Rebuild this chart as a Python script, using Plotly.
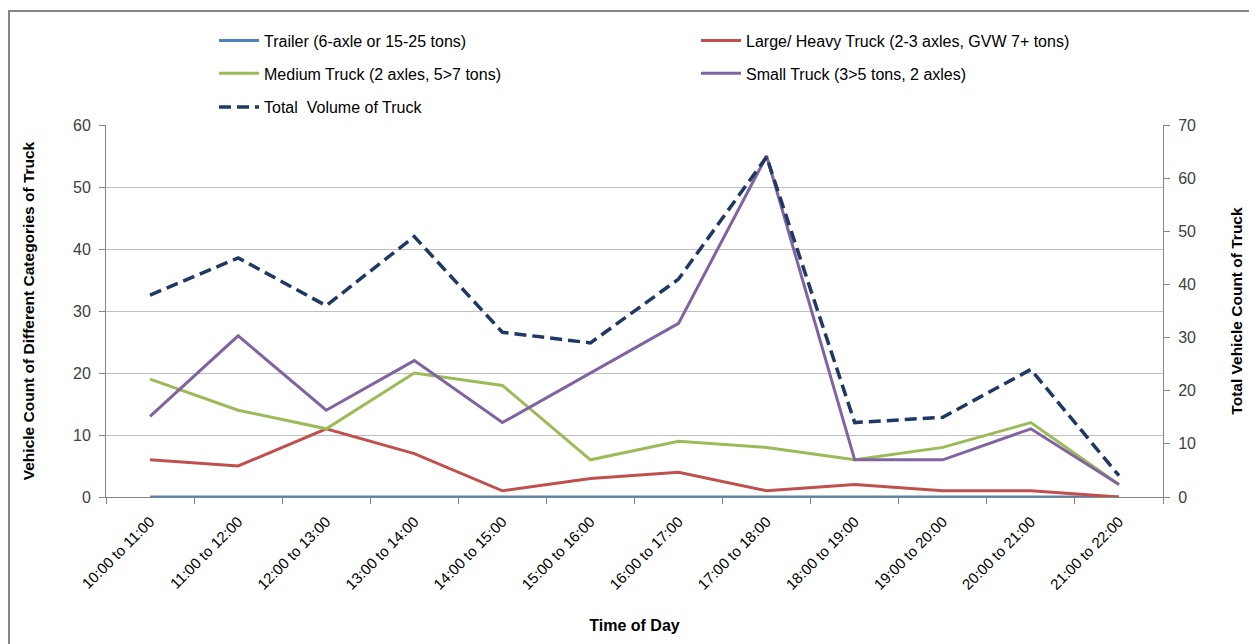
import plotly.graph_objects as go

categories = ["10:00 to 11:00", "11:00 to 12:00", "12:00 to 13:00", "13:00 to 14:00",
              "14:00 to 15:00", "15:00 to 16:00", "16:00 to 17:00", "17:00 to 18:00",
              "18:00 to 19:00", "19:00 to 20:00", "20:00 to 21:00", "21:00 to 22:00"]
trailer = [0, 0, 0, 0, 0, 0, 0, 0, 0, 0, 0, 0]
large_truck = [6, 5, 11, 7, 1, 3, 4, 1, 2, 1, 1, 0]
medium_truck = [19, 14, 11, 20, 18, 6, 9, 8, 6, 8, 12, 2]
small_truck = [13, 26, 14, 22, 12, 20, 28, 55, 6, 6, 11, 2]
total_volume = [38, 45, 36, 49, 31, 29, 41, 64, 14, 15, 24, 4]

left_ticks = [0, 10, 20, 30, 40, 50, 60]
right_ticks = [0, 10, 20, 30, 40, 50, 60, 70]

FONT = "Liberation Sans, Arial, sans-serif"
TXT = "#404040"
# page body has an 8px margin, so the figure is 8px smaller than the window
W, H = 1249, 636
ML, MR, MT, MB = 98, 94, 117, 144

pw = W - ML - MR
ph = H - MT - MB
def px_x(px):
    return (px - ML) / pw
def px_y(py):
    return (H - MB - py) / ph

fig = go.Figure()
fig.add_trace(go.Scatter(x=categories, y=trailer, mode="lines", name="Trailer (6-axle or 15-25 tons)",
                         line=dict(color="#4F81BD", width=3), legend="legend", showlegend=True))
fig.add_trace(go.Scatter(x=categories, y=large_truck, mode="lines", name="Large/ Heavy Truck (2-3 axles, GVW 7+ tons)",
                         line=dict(color="#C0504D", width=3), legend="legend2", showlegend=True))
fig.add_trace(go.Scatter(x=categories, y=medium_truck, mode="lines", name="Medium Truck (2 axles, 5>7 tons)",
                         line=dict(color="#9BBB59", width=3), legend="legend3", showlegend=True))
fig.add_trace(go.Scatter(x=categories, y=small_truck, mode="lines", name="Small Truck (3>5 tons, 2 axles)",
                         line=dict(color="#8064A2", width=3), legend="legend4", showlegend=True))
fig.add_trace(go.Scatter(x=categories, y=total_volume, mode="lines", name="Total  Volume of Truck",
                         line=dict(color="#1F3864", width=3.5, dash="12px,6px"), yaxis="y2", legend="legend5",
                         showlegend=True))

leg_common = dict(orientation="v", xanchor="left", yanchor="middle", bgcolor="rgba(0,0,0,0)",
                  font=dict(family=FONT, size=16, color="#000000"), itemwidth=40)

fig.update_layout(
    width=W, height=H,
    showlegend=True,
    margin=dict(l=ML, r=MR, t=MT, b=MB),
    paper_bgcolor="white", plot_bgcolor="white",
    font=dict(family=FONT, size=14, color=TXT),
    legend=dict(x=px_x(206), y=px_y(32), **leg_common),
    legend2=dict(x=px_x(688), y=px_y(32), **leg_common),
    legend3=dict(x=px_x(206), y=px_y(65), **leg_common),
    legend4=dict(x=px_x(688), y=px_y(65), **leg_common),
    legend5=dict(x=px_x(206), y=px_y(99), **leg_common),
    xaxis=dict(
        type="category", range=[-0.5, 11.5], tickson="boundaries",
        showgrid=False, showline=True, linecolor="#868686", linewidth=1,
        ticks="outside", ticklen=6, tickcolor="#868686",
        tickangle=-45, tickfont=dict(family=FONT, size=15, color="#000000"), ticklabelstandoff=9,
        title=dict(text="<b>Time of Day</b>", font=dict(family=FONT, size=16, color="#000000"), standoff=28),
    ),
    yaxis=dict(
        range=[0, 60], tickvals=left_ticks, showgrid=True, gridcolor="#BFBFBF", gridwidth=1.3,
        showline=True, linecolor="#868686", linewidth=1, zeroline=False,
        ticks="outside", ticklen=6, tickcolor="#868686",
        tickfont=dict(family=FONT, size=16, color=TXT), ticklabelstandoff=5,
        title=dict(text="<b>Vehicle Count of Different Categories of Truck</b>",
                   font=dict(family=FONT, size=15.5, color="#000000"), standoff=34),
    ),
    yaxis2=dict(
        range=[0, 70], tickvals=right_ticks, overlaying="y", side="right", showgrid=False,
        showline=True, linecolor="#868686", linewidth=1, zeroline=False,
        ticks="outside", ticklen=6, tickcolor="#868686",
        tickfont=dict(family=FONT, size=16, color=TXT), ticklabelstandoff=5,
        title=dict(text="<b>Total Vehicle Count of Truck</b>",
                   font=dict(family=FONT, size=15.5, color="#000000"), standoff=36),
    ),
    shapes=[dict(type="rect", xref="paper", yref="paper",
                 x0=px_x(1), x1=px_x(1243), y0=px_y(700), y1=px_y(2),
                 line=dict(color="#868686", width=2), fillcolor="rgba(0,0,0,0)", layer="below")],
)

fig.write_html("out.html")
